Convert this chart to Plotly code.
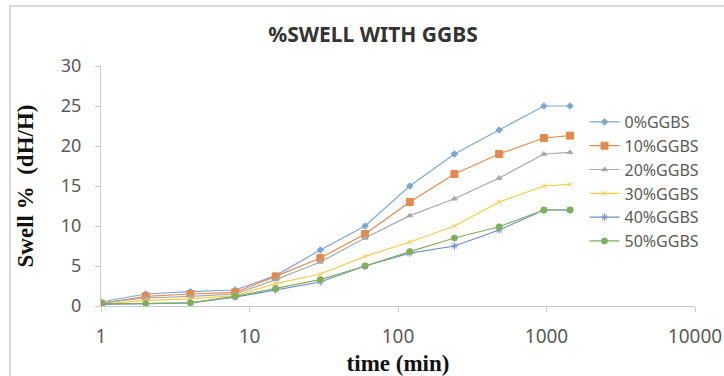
import plotly.graph_objects as go

time_min = [1, 2, 4, 8, 15, 30, 60, 120, 240, 480, 960, 1440]
series_names = ["0%GGBS", "10%GGBS", "20%GGBS", "30%GGBS", "40%GGBS", "50%GGBS"]
swell_0 = [0.5, 1.5, 1.8, 2.0, 3.8, 7.0, 10.0, 15.0, 19.0, 22.0, 25.0, 25.0]
swell_10 = [0.3, 1.2, 1.5, 1.7, 3.7, 6.0, 9.0, 13.0, 16.5, 19.0, 21.0, 21.3]
swell_20 = [0.4, 1.0, 1.2, 1.5, 3.3, 5.5, 8.5, 11.3, 13.4, 16.0, 19.0, 19.2]
swell_30 = [0.2, 0.7, 0.9, 1.3, 2.8, 4.0, 6.2, 8.0, 10.0, 13.0, 15.0, 15.2]
swell_40 = [0.2, 0.3, 0.4, 1.1, 2.0, 3.0, 5.0, 6.6, 7.5, 9.5, 12.0, 12.0]
swell_50 = [0.3, 0.3, 0.4, 1.2, 2.2, 3.3, 5.0, 6.8, 8.5, 9.9, 12.0, 12.0]
x_tickvals = [1, 10, 100, 1000, 10000]
x_ticktext = ["1", "10", "100", "1000", "10000"]
y_tickvals = [0, 5, 10, 15, 20, 25, 30]

all_series = [swell_0, swell_10, swell_20, swell_30, swell_40, swell_50]
colors = ["#7ba7d6", "#e58a4e", "#a8a8a8", "#f5cc4a", "#6f8fc8", "#7fae5c"]
symbols = ["diamond", "square", "triangle-up", "x-thin", "asterisk", "circle"]
sizes = [5, 7, 5, 5, 6, 6]

fig = go.Figure()
for name, ys, c, s, sz in zip(series_names, all_series, colors, symbols, sizes):
    fig.add_trace(go.Scatter(
        x=time_min, y=ys, name=name, mode="lines+markers",
        line=dict(color=c, width=1.2),
        marker=dict(symbol=s, size=sz, color=c, line=dict(color=c, width=1)),
    ))

fig.update_layout(
    width=724, height=376,
    margin=dict(l=101, r=29, t=66, b=70),
    paper_bgcolor="white", plot_bgcolor="white",
    title=dict(text="<b>%SWELL WITH GGBS</b>", x=373 / 724, xanchor="center",
               y=1 - 35 / 376, yanchor="middle",
               font=dict(family="Noto Sans", size=21, color="#333333")),
    showlegend=True,
    legend=dict(x=0.814, y=(306 - 105) / 240, xanchor="left", yanchor="top",
                bgcolor="rgba(0,0,0,0)", tracegroupgap=0,
                font=dict(family="Noto Sans", size=16, color="#5a5a5a")),
    xaxis=dict(type="log", range=[0, 4], tickvals=x_tickvals, ticktext=x_ticktext,
               automargin=False,
               showgrid=False, zeroline=False, showline=True, linecolor="#c8c8c8",
               ticks="outside", ticklen=5, tickcolor="#c8c8c8", ticklabelstandoff=8,
               tickfont=dict(family="Noto Sans", size=19, color="#5a5a5a"),
               title=dict(text="<b>time (min)</b>", standoff=11,
                          font=dict(family="Liberation Serif", size=23, color="#111111"))),
    yaxis=dict(range=[0, 30], tickvals=y_tickvals, automargin=False,
               showgrid=False, zeroline=False, showline=True, linecolor="#c8c8c8",
               ticks="outside", ticklen=5, tickcolor="#c8c8c8", ticklabelstandoff=10,
               tickfont=dict(family="Noto Sans", size=18, color="#5a5a5a"),
               title=dict(text="<b>Swell %  (dH/H)</b>", standoff=20,
                          font=dict(family="Liberation Serif", size=23, color="#111111"))),
    shapes=[dict(type="rect", xref="paper", yref="paper",
                 x0=(10 - 101) / 594, x1=1.2, y0=-0.4, y1=(306 - 6) / 240,
                 line=dict(color="#d0d0d0", width=1.5), fillcolor="rgba(0,0,0,0)",
                 layer="below")],
)

fig.write_html("out.html")
